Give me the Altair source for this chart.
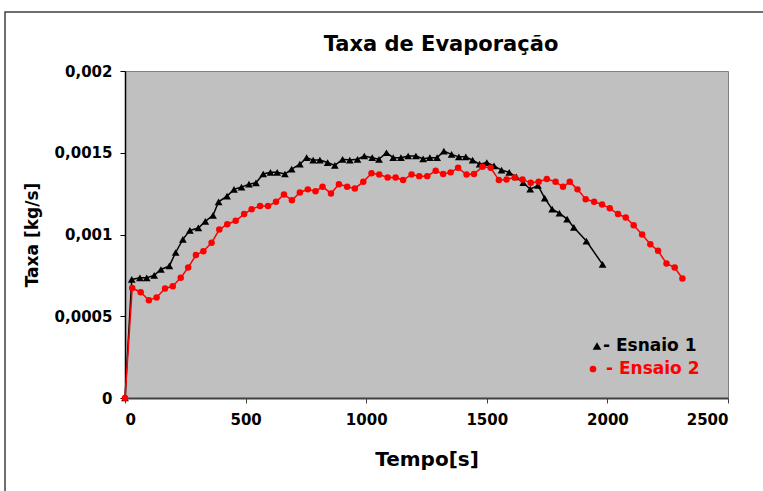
import altair as alt
import pandas as pd

# Ensaio 1 (black triangles)
black_t = [0, 28, 62, 90, 121, 149, 184, 210, 240, 269, 304, 333, 365, 388, 423, 452, 483, 514, 543, 573,
           603, 631, 663, 691, 725, 753, 780, 808, 840, 870, 902, 932, 964, 992, 1025, 1053, 1084, 1112, 1144, 1174,
           1206, 1236, 1264, 1294, 1322, 1354, 1384, 1413, 1441, 1470, 1500, 1530, 1561, 1593, 1622, 1651, 1680, 1712,
           1740, 1771, 1801, 1833, 1861, 1913, 1980]
black_v = [0, 0.000725, 0.000735, 0.000735, 0.00075, 0.000786, 0.000808, 0.00089, 0.00097, 0.001025,
           0.00104, 0.00108, 0.001117, 0.0012, 0.001235, 0.001276, 0.00129, 0.001308, 0.001316, 0.00137,
           0.00138, 0.00138, 0.00137, 0.0014, 0.00143, 0.00147, 0.001455, 0.001455, 0.00144, 0.001423,
           0.00146, 0.001455, 0.00146, 0.00148, 0.00147, 0.00146, 0.0015, 0.00147, 0.00147, 0.00148,
           0.00148, 0.001463, 0.00147, 0.00147, 0.00151, 0.00149, 0.001475, 0.001475, 0.001455, 0.00143,
           0.00144, 0.00142, 0.001394, 0.00138, 0.001353, 0.001317, 0.001277, 0.0013, 0.001222, 0.001155,
           0.00113, 0.001094, 0.001043, 0.00096, 0.000817]

# Ensaio 2 (red circles)
red_t = [0, 30, 65, 99, 131, 166, 198, 231, 262, 294, 325, 359, 391, 424, 459, 494, 525, 560, 593, 626,
         659, 692, 725, 758, 790, 819, 854, 887, 921, 953, 988, 1022, 1054, 1089, 1122, 1153, 1188, 1220, 1253, 1288,
         1319, 1350, 1381, 1416, 1447, 1482, 1516, 1550, 1582, 1616, 1648, 1682, 1715, 1749, 1785, 1816, 1844, 1876,
         1910, 1945, 1978, 2010, 2044, 2076, 2109, 2144, 2178, 2210, 2245, 2279, 2311]
red_v = [0, 0.000673, 0.000647, 0.000598, 0.000615, 0.00067, 0.000684, 0.000735, 0.000798, 0.000874,
         0.000898, 0.000949, 0.00103, 0.001063, 0.001084, 0.001125, 0.001155, 0.001174, 0.001174, 0.0012,
         0.001245, 0.00121, 0.001257, 0.001276, 0.001265, 0.001292, 0.001251, 0.001308, 0.001292, 0.001282,
         0.001322, 0.001374, 0.001367, 0.001349, 0.001349, 0.001333, 0.001367, 0.001357, 0.001357, 0.00139,
         0.00137, 0.00138, 0.001408, 0.001367, 0.00137, 0.001414, 0.001408, 0.001333, 0.001337, 0.001349,
         0.001337, 0.001316, 0.001322, 0.00134, 0.001322, 0.001292, 0.001322, 0.001276, 0.001216, 0.0012,
         0.001184, 0.00116, 0.001125, 0.001104, 0.001057, 0.001, 0.00094, 0.0009, 0.000823, 0.000798,
         0.000731]

x_ticks = [0, 500, 1000, 1500, 2000, 2500]
y_ticks = [0, 0.0005, 0.001, 0.0015, 0.002]
legend_labels = ["- Esnaio 1", "- Ensaio 2"]
title_text = "Taxa de Evaporação"

FONT = "DejaVu Sans"

df1 = pd.DataFrame({"t": black_t, "v": black_v})
df2 = pd.DataFrame({"t": red_t, "v": red_v})
one = pd.DataFrame({"a": [0]})

xscale = alt.Scale(domain=[0, 2500], nice=False)
yscale = alt.Scale(domain=[0, 0.002], nice=False)

xenc = alt.X("t:Q", scale=xscale, title="Tempo[s]",
             axis=alt.Axis(values=x_ticks, grid=False, format="d", domainColor="#404040", domainWidth=2,
                           tickColor="#404040", tickSize=5, labelPadding=9, titlePadding=22,
                           labelFont=FONT, labelFontSize=15, labelFontWeight="bold", labelColor="black",
                           titleFont=FONT, titleFontSize=20, titleFontWeight="bold", titleColor="black"))
yenc = alt.Y("v:Q", scale=yscale, title="Taxa [kg/s]",
             axis=alt.Axis(values=y_ticks, grid=False, domainColor="black", domainWidth=1.5,
                           tickColor="black", tickSize=5, labelPadding=8, titlePadding=13,
                           labelExpr="replace(toString(datum.value), '.', ',')",
                           labelFont=FONT, labelFontSize=15, labelFontWeight="bold", labelColor="black",
                           titleFont=FONT, titleFontSize=17, titleFontWeight="bold", titleColor="black"))

line1 = alt.Chart(df1).mark_line(color="black", strokeWidth=1.5).encode(x=xenc, y=yenc, order="t:Q")
pts1 = alt.Chart(df1).mark_point(shape="triangle-up", filled=True, color="black", size=60, opacity=1).encode(x="t:Q", y="v:Q")
line2 = alt.Chart(df2).mark_line(color="#ff0000", strokeWidth=1.5).encode(x="t:Q", y="v:Q", order="t:Q")
pts2 = alt.Chart(df2).mark_point(shape="circle", filled=True, color="#ff0000", size=42, opacity=1).encode(x="t:Q", y="v:Q")

# title as text
title_mark = alt.Chart(one).mark_text(text=title_text, align="center", baseline="middle", font=FONT,
                                      fontSize=21, fontWeight="bold", color="black").encode(
    x=alt.value(316), y=alt.value(-26))

# legend (inside plot, lower right)
leg_sym1 = alt.Chart(one).mark_point(shape="triangle-up", filled=True, color="black", size=75, opacity=1).encode(
    x=alt.value(472), y=alt.value(275))
leg_txt1 = alt.Chart(one).mark_text(text=legend_labels[0], align="left", baseline="middle", font=FONT,
                                    fontSize=17, fontWeight="bold", color="black").encode(
    x=alt.value(478), y=alt.value(275))
leg_sym2 = alt.Chart(one).mark_point(shape="circle", filled=True, color="#ff0000", size=45, opacity=1).encode(
    x=alt.value(468), y=alt.value(298))
leg_txt2 = alt.Chart(one).mark_text(text=legend_labels[1], align="left", baseline="middle", font=FONT,
                                    fontSize=17, fontWeight="bold", color="#ff0000").encode(
    x=alt.value(481), y=alt.value(298))

frame = alt.Chart(one).mark_rect(fill=None, stroke="#404040", strokeWidth=1.5).encode(
    x=alt.value(-120), x2=alt.value(650), y=alt.value(-59), y2=alt.value(440))

chart = alt.layer(frame, line1, pts1, line2, pts2, title_mark, leg_sym1, leg_txt1, leg_sym2, leg_txt2).properties(
    width=603, height=327,
    autosize=alt.AutoSizeParams(type="none"),
    padding={"left": 125, "top": 71, "right": 35, "bottom": 93},
).configure_view(fill="#c0c0c0", stroke="#808080", strokeWidth=1)

chart.save("out.html", embed_options={"renderer": "svg", "actions": False})
